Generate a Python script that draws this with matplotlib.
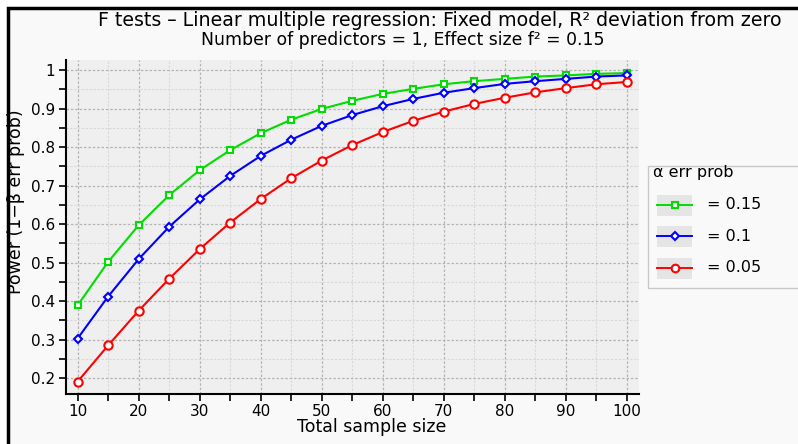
import matplotlib
matplotlib.use("Agg")
import matplotlib.pyplot as plt
from matplotlib.patches import Rectangle
from matplotlib.lines import Line2D
from matplotlib.ticker import MultipleLocator

# -------------------- Data --------------------
sample_size = [10, 15, 20, 25, 30, 35, 40, 45, 50, 55, 60, 65, 70, 75, 80, 85, 90, 95, 100]
power_a015 = [0.389, 0.502, 0.597, 0.675, 0.740, 0.792, 0.836, 0.871, 0.899, 0.920,
              0.938, 0.951, 0.963, 0.971, 0.977, 0.983, 0.986, 0.990, 0.992]
power_a010 = [0.303, 0.412, 0.509, 0.593, 0.664, 0.725, 0.777, 0.819, 0.855, 0.883,
              0.906, 0.925, 0.941, 0.953, 0.964, 0.971, 0.977, 0.983, 0.986]
power_a005 = [0.191, 0.285, 0.375, 0.458, 0.535, 0.604, 0.665, 0.719, 0.765, 0.805,
              0.839, 0.868, 0.892, 0.912, 0.928, 0.942, 0.953, 0.963, 0.969]
legend_labels = ["= 0.15", "= 0.1", "= 0.05"]

W, H = 798, 444
fig = plt.figure(figsize=(W / 100, H / 100), dpi=100)
fig.patch.set_facecolor("white")

# -------------------- Frame --------------------
frame = Rectangle((8 / W, -0.1), 1.1, 1 - 8 / H + 0.1, transform=fig.transFigure,
                  facecolor="#f9f9f9", edgecolor="black", linewidth=2.5, zorder=-10)
fig.patches.append(frame)

fig.text(439.5 / W, 1 - 20 / H, "F tests – Linear multiple regression: Fixed model, R² deviation from zero",
         ha="center", va="center", fontsize=13.7)
fig.text(403 / W, 1 - 40 / H, "Number of predictors = 1, Effect size f² = 0.15",
         ha="center", va="center", fontsize=12.4)

# -------------------- Main axes --------------------
ax = fig.add_axes([66 / W, 1 - 394 / H, (639 - 66) / W, (394 - 60) / H])
ax.set_facecolor("#efefef")
ax.plot(sample_size, power_a015, color="#00dd00", lw=1.5, marker="s", ms=5,
        mfc="white", mec="#00dd00", mew=1.5, zorder=3)
ax.plot(sample_size, power_a010, color="#0000ff", lw=1.5, marker="D", ms=4.5,
        mfc="white", mec="#0000ff", mew=1.5, zorder=3)
ax.plot(sample_size, power_a005, color="#ff0000", lw=1.5, marker="o", ms=6,
        mfc="white", mec="#ff0000", mew=1.5, zorder=3)

ax.set_xlim(8.1, 102)
ax.set_ylim(0.159, 1.026)
ax.xaxis.set_major_locator(MultipleLocator(10))
ax.xaxis.set_minor_locator(MultipleLocator(5))
ax.yaxis.set_minor_locator(MultipleLocator(0.05))
ax.set_yticks([0.2, 0.3, 0.4, 0.5, 0.6, 0.7, 0.8, 0.9, 1.0])
ax.set_yticklabels(["0.2", "0.3", "0.4", "0.5", "0.6", "0.7", "0.8", "0.9", "1"])
ax.grid(which="major", color="#b4b4b4", linestyle=(0, (2, 1.5)), lw=0.9)
ax.grid(which="minor", color="#d8d8d8", linestyle=(0, (2, 1.5)), lw=0.8)
ax.set_axisbelow(True)
for s in ["top", "right"]:
    ax.spines[s].set_visible(False)
for s in ["left", "bottom"]:
    ax.spines[s].set_linewidth(1.5)
ax.tick_params(which="both", direction="out", length=5, width=1.2, labelsize=11)
ax.tick_params(axis="x", pad=2.5)
ax.tick_params(axis="y", pad=3)
ax.set_xlabel("Total sample size", fontsize=12.5)
ax.set_ylabel("Power (1−β err prob)", fontsize=12.5)
ax.xaxis.set_label_coords(0.533, -0.072)
ax.yaxis.set_label_coords(-0.0716, 0.575)

# -------------------- Legend --------------------
lax = fig.add_axes([0, 0, 1, 1], facecolor="none")
lax.set_xlim(0, W)
lax.set_ylim(H, 0)
lax.axis("off")
lax.add_patch(Rectangle((648, 166), 160, 122, facecolor="#f9f9f9", edgecolor="#c8c8c8", lw=1))
lax.text(653, 172, "α err prob", ha="left", va="center", fontsize=11.5)
leg_styles = [("#00dd00", "s", 4.5), ("#0000ff", "D", 4), ("#ff0000", "o", 5.5)]
for i, (lab, (c, m, ms)) in enumerate(zip(legend_labels, leg_styles)):
    yc = 204.5 + i * 31.5
    lax.add_patch(Rectangle((657, yc - 10), 35, 21, facecolor="#e5e5e5", edgecolor="none"))
    lax.add_line(Line2D([657, 692], [yc, yc], color=c, lw=1.4))
    lax.plot([674.5], [yc], marker=m, ms=ms, mfc="white", mec=c, mew=1.5, color=c)
    lax.text(707, yc, lab, ha="left", va="center", fontsize=11.5)

fig.savefig("out.png", dpi=100)
